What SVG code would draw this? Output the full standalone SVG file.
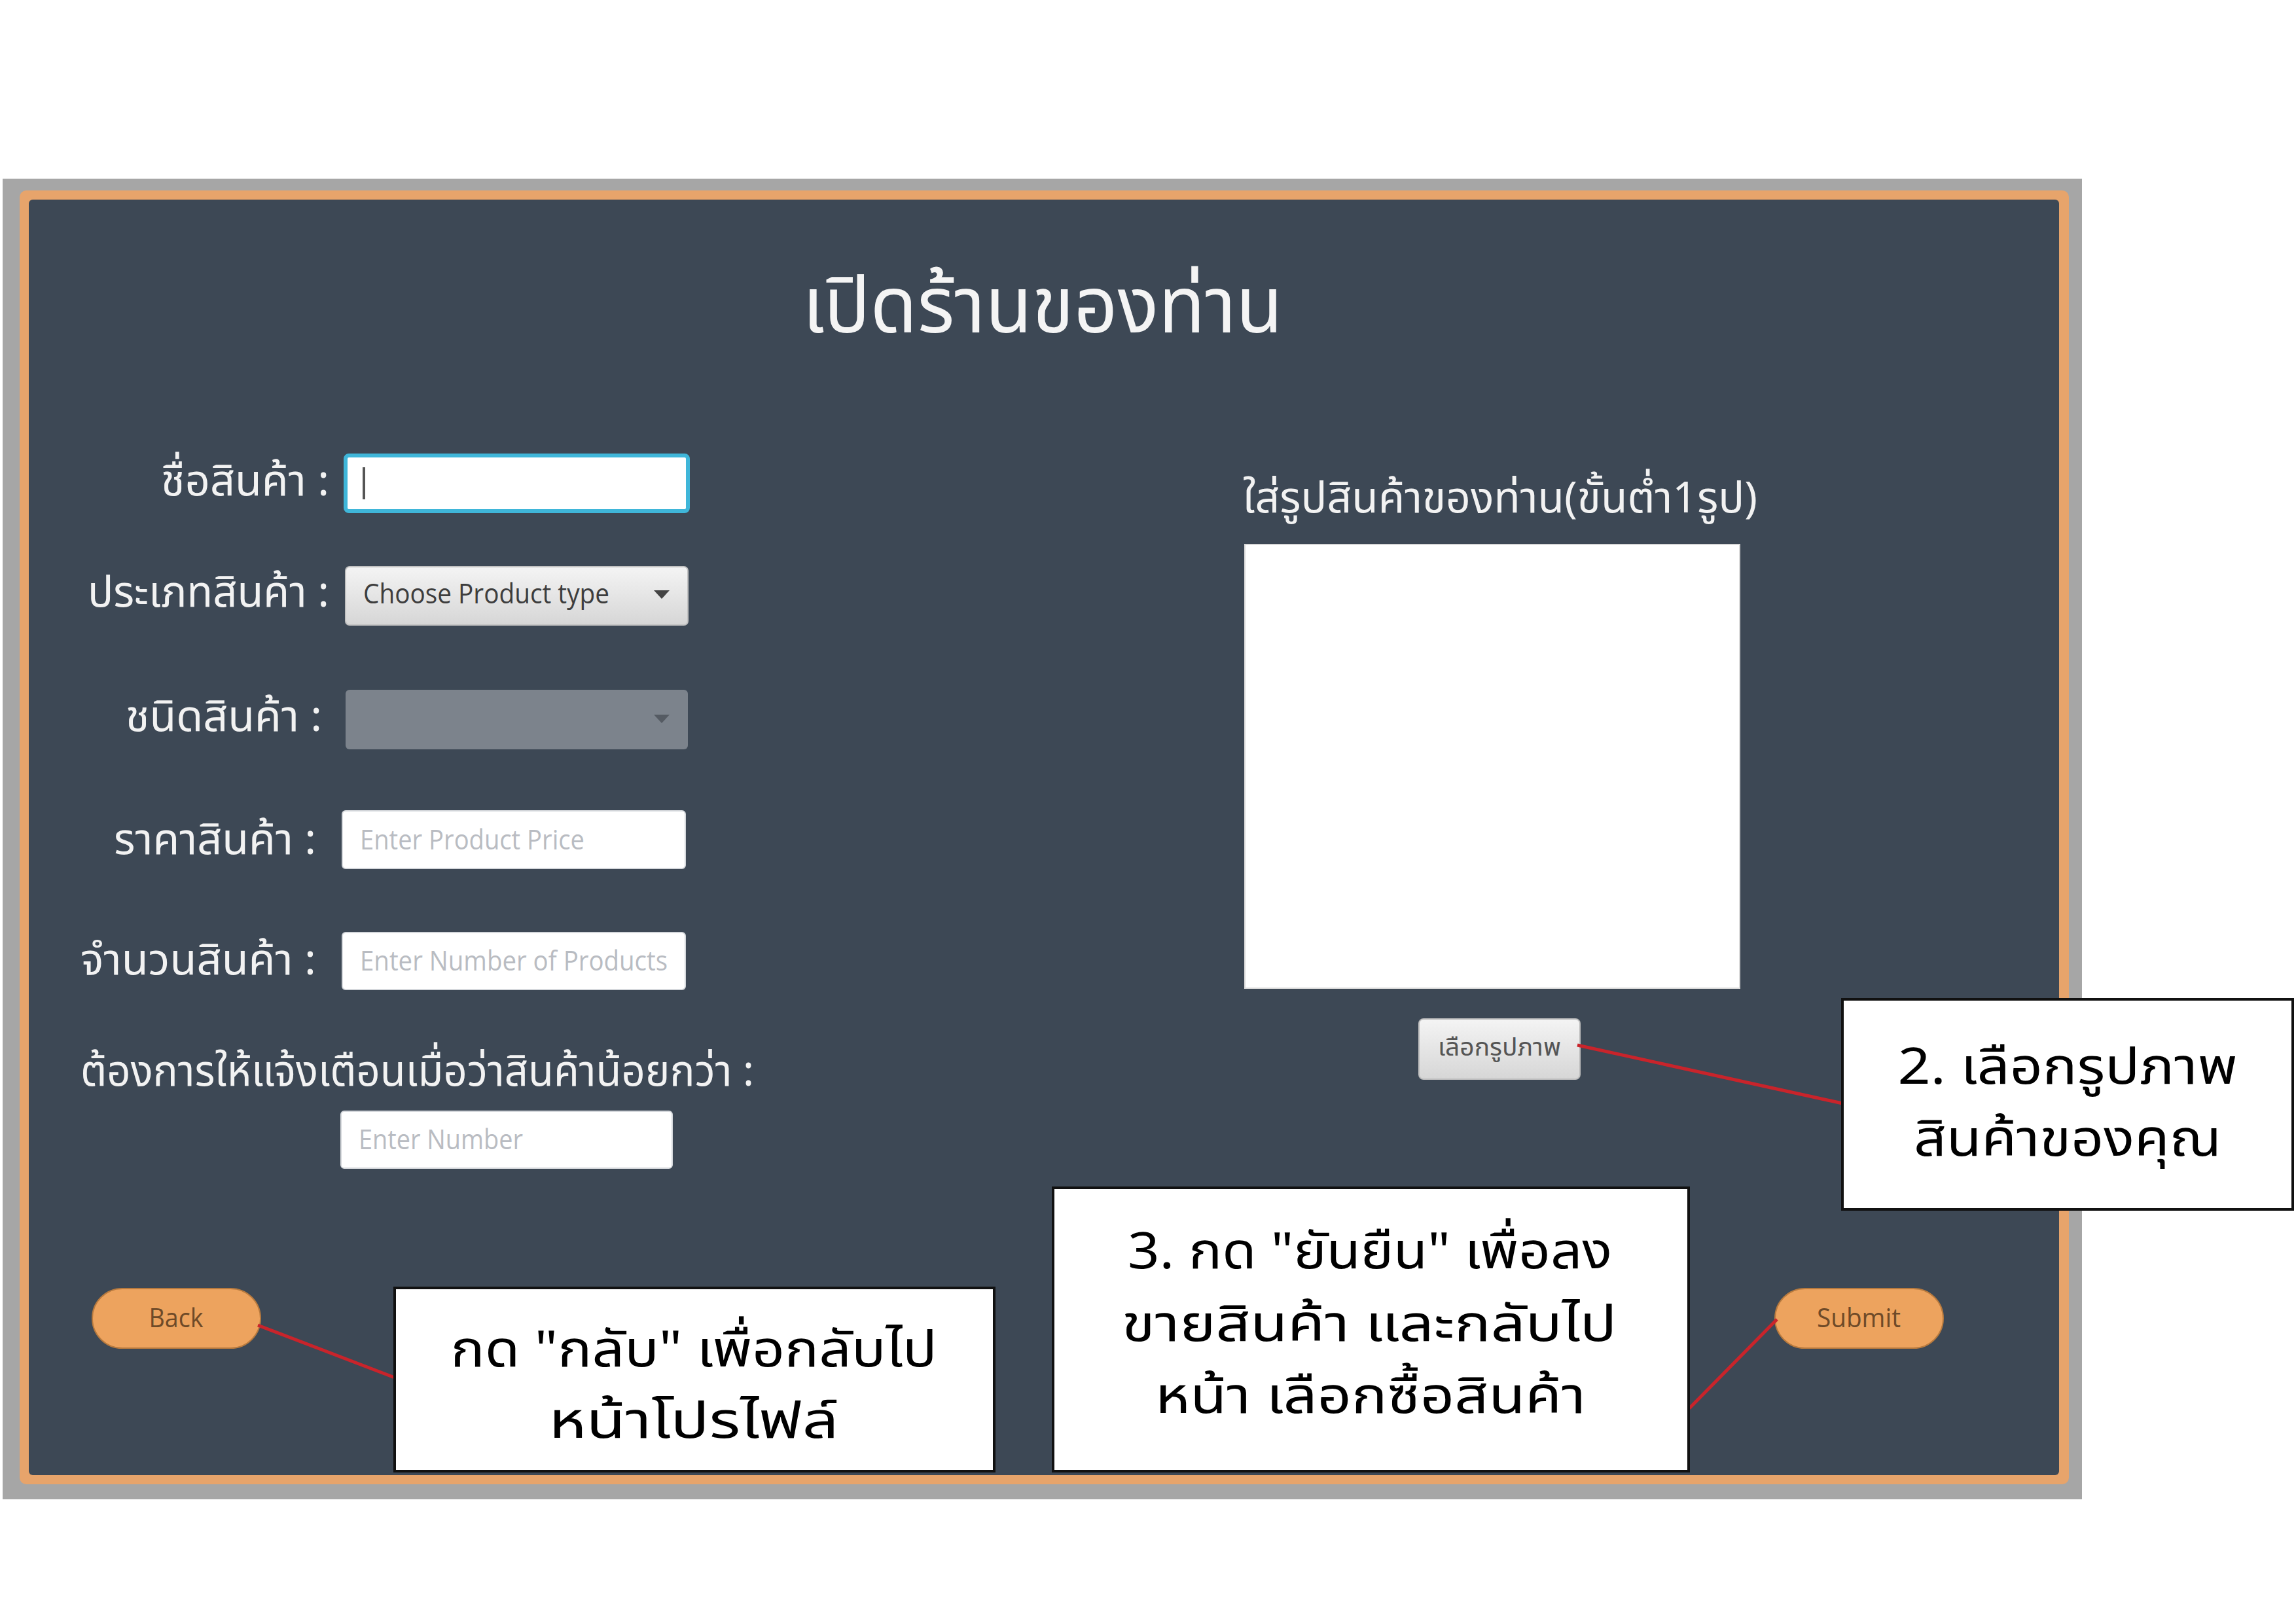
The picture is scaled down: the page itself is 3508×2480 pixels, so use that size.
<svg xmlns="http://www.w3.org/2000/svg" width="3508" height="2480" viewBox="0 0 3508 2480">
<defs>
<style>
.th{font-family:"Noto Sans Thai","Noto Sans","DejaVu Sans","Liberation Sans",sans-serif;}
.lbl{fill:#f2f2f2;font-size:66px;text-anchor:end;}
.ph{font-family:"Open Sans","Liberation Sans",sans-serif;font-size:42px;fill:#b9bcc2;}
.call{fill:#000;font-size:76px;text-anchor:middle;}
.box{fill:#fff;stroke:#111;stroke-width:4;}
.inp{fill:#fff;stroke:#d5d8dc;stroke-width:2;}
.btn{fill:#eda35e;stroke:#b87a3e;stroke-width:2;}
.btntxt{font-family:"Open Sans","Liberation Sans",sans-serif;font-size:40px;fill:#6e4a28;text-anchor:middle;}
.conn{stroke:#c9242b;stroke-width:5;fill:none;}
</style>
<linearGradient id="gcombo" x1="0" y1="0" x2="0" y2="1">
<stop offset="0" stop-color="#f4f4f4"/>
<stop offset="1" stop-color="#d6d6d6"/>
</linearGradient>
</defs>
<rect width="3508" height="2480" fill="#ffffff"/>
<g id="frame">
<rect x="4" y="273" width="3177" height="2018" fill="#a6a6a6"/>
<rect x="30" y="291" width="3131" height="1977" rx="10" fill="#e7a46b"/>
<rect x="44" y="305" width="3102" height="1949" rx="6" fill="#3d4855"/>
</g>
<g id="title">
<text class="th" x="1593" y="508" font-size="120" fill="#f4f4f4" text-anchor="middle" textLength="734" lengthAdjust="spacingAndGlyphs">เปิดร้านของท่าน</text>
</g>
<g id="name-field">
<text class="th lbl" x="503" y="757" textLength="257" lengthAdjust="spacingAndGlyphs">ชื่อสินค้า :</text>
<rect x="528" y="696" width="523" height="85" rx="5" fill="#fff" stroke="#3fb6d9" stroke-width="6"/>
<line x1="556" y1="714" x2="556" y2="763" stroke="#555" stroke-width="4"/>
</g>
<g id="type-field">
<text class="th lbl" x="503" y="927" textLength="369" lengthAdjust="spacingAndGlyphs">ประเภทสินค้า :</text>
<rect x="528" y="866" width="523" height="89" rx="6" fill="url(#gcombo)" stroke="#c2c2c2" stroke-width="2"/>
<text x="555" y="922" font-family="Open Sans, Liberation Sans, sans-serif" font-size="42" fill="#3d3d3d" textLength="376" lengthAdjust="spacingAndGlyphs">Choose Product type</text>
<path d="M999 902 L1023 902 L1011 915 Z" fill="#444"/>
</g>
<g id="kind-field">
<text class="th lbl" x="492" y="1117" textLength="300" lengthAdjust="spacingAndGlyphs">ชนิดสินค้า :</text>
<rect x="528" y="1054" width="523" height="91" rx="6" fill="#7c838c"/>
<path d="M999 1092 L1023 1092 L1011 1105 Z" fill="#555b63"/>
</g>
<g id="price-field">
<text class="th lbl" x="483" y="1305" textLength="309" lengthAdjust="spacingAndGlyphs">ราคาสินค้า :</text>
<rect class="inp" x="523" y="1239" width="524" height="88" rx="5"/>
<text class="ph" x="550" y="1298" textLength="343" lengthAdjust="spacingAndGlyphs">Enter Product Price</text>
</g>
<g id="qty-field">
<text class="th lbl" x="483" y="1489" textLength="360" lengthAdjust="spacingAndGlyphs">จำนวนสินค้า :</text>
<rect class="inp" x="523" y="1425" width="524" height="87" rx="5"/>
<text class="ph" x="550" y="1483" textLength="470" lengthAdjust="spacingAndGlyphs">Enter Number of Products</text>
</g>
<g id="alert-field">
<text class="th" x="123" y="1659" font-size="66" fill="#f2f2f2" textLength="1029" lengthAdjust="spacingAndGlyphs">ต้องการให้แจ้งเตือนเมื่อว่าสินค้าน้อยกว่า :</text>
<rect class="inp" x="521" y="1698" width="506" height="87" rx="5"/>
<text class="ph" x="548" y="1756" textLength="251" lengthAdjust="spacingAndGlyphs">Enter Number</text>
</g>
<g id="image-area">
<text class="th" x="1899" y="783" font-size="66" fill="#f2f2f2" textLength="786" lengthAdjust="spacingAndGlyphs">ใส่รูปสินค้าของท่าน(ขั้นต่ำ1รูป)</text>
<rect x="1902" y="832" width="756" height="678" fill="#ffffff" stroke="#d9d9d9" stroke-width="2"/>
</g>
<g id="choose-image-btn">
<rect x="2168" y="1557" width="246" height="92" rx="7" fill="url(#gcombo)" stroke="#bdbdbd" stroke-width="2"/>
<text class="th" x="2291" y="1613" font-size="38" fill="#555" text-anchor="middle" textLength="188" lengthAdjust="spacingAndGlyphs">เลือกรูปภาพ</text>
</g>
<g id="back-btn">
<rect class="btn" x="141" y="1969" width="257" height="91" rx="45.5"/>
<text class="btntxt" x="269" y="2028" textLength="83" lengthAdjust="spacingAndGlyphs">Back</text>
</g>
<g id="submit-btn">
<rect class="btn" x="2712" y="1969" width="257" height="91" rx="45.5"/>
<text class="btntxt" x="2840" y="2028" textLength="128" lengthAdjust="spacingAndGlyphs">Submit</text>
</g>
<g id="connectors">
<line class="conn" x1="2410" y1="1597" x2="2815" y2="1686"/>
<line class="conn" x1="394" y1="2025" x2="603" y2="2105"/>
<line class="conn" x1="2715" y1="2016" x2="2581" y2="2152"/>
</g>
<g id="callout-image">
<rect class="box" x="2815" y="1527" width="688" height="321"/>
<text class="th call" x="3159" y="1656" textLength="519" lengthAdjust="spacingAndGlyphs">2. เลือกรูปภาพ</text>
<text class="th call" x="3159" y="1766" textLength="470" lengthAdjust="spacingAndGlyphs">สินค้าของคุณ</text>
</g>
<g id="callout-submit">
<rect class="box" x="1609" y="1815" width="971" height="433"/>
<text class="th call" x="2093" y="1938" textLength="740" lengthAdjust="spacingAndGlyphs">3. กด "ยันยืน" เพื่อลง</text>
<text class="th call" x="2092" y="2049" textLength="756" lengthAdjust="spacingAndGlyphs">ขายสินค้า และกลับไป</text>
<text class="th call" x="2094" y="2159" textLength="658" lengthAdjust="spacingAndGlyphs">หน้า เลือกซื้อสินค้า</text>
</g>
<g id="callout-back">
<rect class="box" x="603" y="1968" width="916" height="280"/>
<text class="th call" x="1060" y="2088" textLength="743" lengthAdjust="spacingAndGlyphs">กด "กลับ" เพื่อกลับไป</text>
<text class="th call" x="1060" y="2197" textLength="443" lengthAdjust="spacingAndGlyphs">หน้าโปรไฟล์</text>
</g>
</svg>
